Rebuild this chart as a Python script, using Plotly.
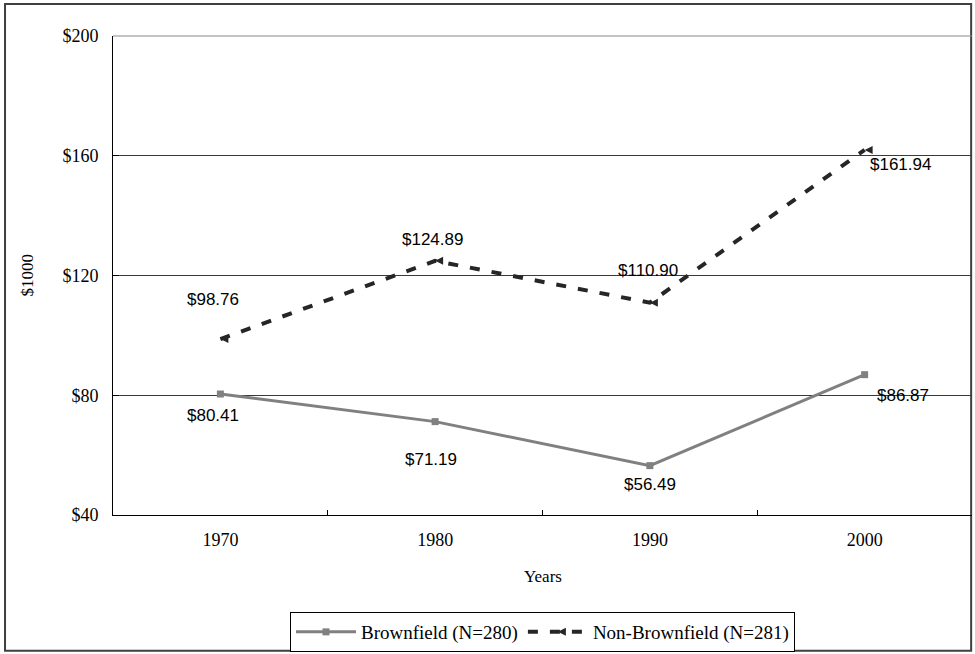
import plotly.graph_objects as go

# Median values in $1000 by census year
years = ["1970", "1980", "1990", "2000"]
brownfield = [80.41, 71.19, 56.49, 86.87]
non_brownfield = [98.76, 124.89, 110.90, 161.94]
y_ticks = [40, 80, 120, 160, 200]
y_tick_text = ["$40", "$80", "$120", "$160", "$200"]

# pixel offsets for the value labels (x, y)
brown_label_shift = [(-7, -21), (-4, -38), (0, -19), (38, -21)]
non_label_shift = [(-7, 40), (-3, 21), (-2, 32), (36, -15)]

serif = "Liberation Serif, Times New Roman, serif"
sans = "Liberation Sans, Arial, sans-serif"

fig = go.Figure()

fig.add_trace(go.Scatter(
    x=years, y=brownfield, name="Brownfield (N=280)",
    mode="lines+markers",
    line=dict(color="#808080", width=3),
    marker=dict(symbol="square", size=7, color="#808080"),
))
fig.add_trace(go.Scatter(
    x=years, y=non_brownfield, name="Non-Brownfield (N=281)",
    mode="lines+markers",
    line=dict(color="#262626", width=4, dash="10px,12px"),
    marker=dict(symbol="arrow-left", size=8, color="#262626"),
))

annotations = []
for i, (v, (dx, dy)) in enumerate(zip(brownfield, brown_label_shift)):
    annotations.append(dict(x=i, y=v, xref="x", yref="y", text=f"${v:.2f}",
                            showarrow=False, xshift=dx, yshift=dy,
                            xanchor="center", yanchor="middle",
                            font=dict(family=sans, size=17, color="black")))
for i, (v, (dx, dy)) in enumerate(zip(non_brownfield, non_label_shift)):
    annotations.append(dict(x=i, y=v, xref="x", yref="y", text=f"${v:.2f}",
                            showarrow=False, xshift=dx, yshift=dy,
                            xanchor="center", yanchor="middle",
                            font=dict(family=sans, size=17, color="black")))

# axis titles
annotations.append(dict(x=0.5, y=-0.129, xref="paper", yref="paper",
                        xanchor="center", yanchor="middle",
                        text="Years", showarrow=False,
                        font=dict(family=serif, size=17, color="black")))
annotations.append(dict(x=-0.1, y=0.5, xref="paper", yref="paper",
                        xanchor="center", yanchor="middle",
                        text="$1000", showarrow=False, textangle=-90,
                        font=dict(family=serif, size=17, color="black")))

fig.update_layout(
    width=975, height=654,
    margin=dict(l=113, r=3, t=36, b=138),
    paper_bgcolor="white", plot_bgcolor="white",
    showlegend=True,
    legend=dict(orientation="h", x=0.5, xanchor="center", y=-0.2, yanchor="top",
                bordercolor="black", borderwidth=1, bgcolor="white",
                font=dict(family=serif, size=19, color="black"),
                itemwidth=60, tracegroupgap=0),
    annotations=annotations,
    shapes=[
        dict(type="rect", xref="paper", yref="paper",
             x0=-0.1257, x1=0.999, y0=-0.2833, y1=1.0667,
             line=dict(color="#404040", width=2), layer="below"),
        dict(type="line", xref="paper", yref="paper",
             x0=0, x1=1, y0=1, y1=1,
             line=dict(color="#8a8a8a", width=1), layer="below"),
    ],
)

fig.update_xaxes(
    type="category", range=[-0.5, 3.5],
    showline=True, linecolor="black", linewidth=1,
    ticks="inside", tickson="boundaries", ticklen=5, tickcolor="black",
    showgrid=False,
    tickfont=dict(family=serif, size=18, color="black"),
    ticklabelstandoff=8,
)
fig.update_yaxes(
    range=[40, 200], tickvals=y_ticks, ticktext=y_tick_text,
    showline=True, linecolor="black", linewidth=1,
    ticks="inside", ticklen=6, tickcolor="black",
    showgrid=True, gridcolor="#3a3a3a", gridwidth=1,
    zeroline=False,
    tickfont=dict(family=serif, size=18, color="black"),
    ticklabelstandoff=10,
)

fig.write_html("out.html")
